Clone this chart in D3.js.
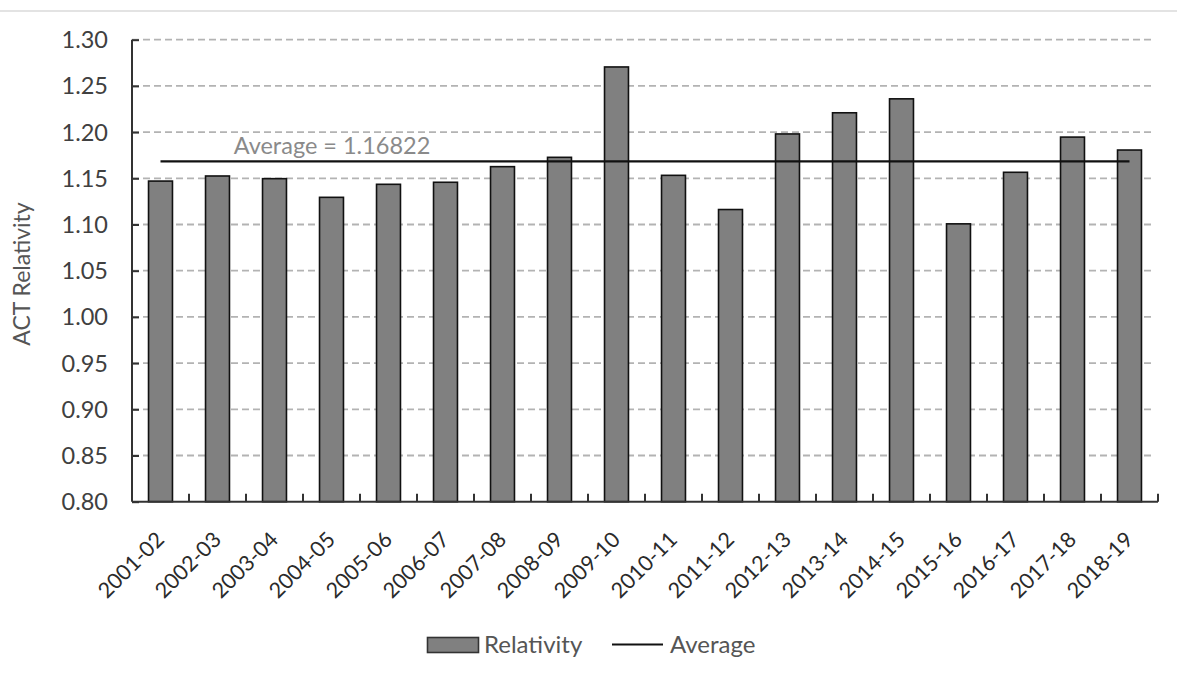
<!DOCTYPE html>
<html>
<head>
<meta charset="utf-8">
<script src="https://cdn.jsdelivr.net/npm/d3@7"></script>
<style>
  html, body { margin: 0; padding: 0; background: #fff; }
  svg { display: block; }
  text { font-family: Lato, "Open Sans", "DejaVu Sans", sans-serif; }
</style>
</head>
<body>
<svg id="chart" width="1177" height="675"></svg>
<script>
const categories = ["2001-02","2002-03","2003-04","2004-05","2005-06","2006-07","2007-08","2008-09","2009-10","2010-11","2011-12","2012-13","2013-14","2014-15","2015-16","2016-17","2017-18","2018-19"];
const relativity = [1.147,1.1525,1.1496,1.1294,1.1435,1.1457,1.1626,1.1727,1.2705,1.1532,1.1162,1.198,1.2209,1.236,1.1007,1.1565,1.1946,1.1806];
const averageValue = 1.16822;
const yTicks = [0.80,0.85,0.90,0.95,1.00,1.05,1.10,1.15,1.20,1.25,1.30];
const averageLabel = "Average = 1.16822";
const yTitle = "ACT Relativity";
const legendLabels = ["Relativity","Average"];

const svg = d3.select("#chart");
const pLeft = 132, pRight = 1158, pTop = 39.7, pBottom = 501.7;

// page separator line at top
svg.append("line").attr("x1",0).attr("x2",1177).attr("y1",11).attr("y2",11)
  .attr("stroke","#e3e3e3").attr("stroke-width",2);

const x = d3.scaleBand().domain(categories).range([pLeft,pRight]).paddingInner(0.58).paddingOuter(0.29);
const y = d3.scaleLinear().domain([0.8,1.3]).range([pBottom,pTop]);

// gridlines
svg.append("g").selectAll("line").data(yTicks.filter(d=>d>0.8)).join("line")
  .attr("x1",pLeft).attr("x2",pRight-4)
  .attr("y1",d=>y(d)).attr("y2",d=>y(d))
  .attr("stroke","#b3b3b3").attr("stroke-width",1.8).attr("stroke-dasharray","7,4");

// y axis
const yAxis = d3.axisRight(y).tickValues(yTicks).tickSize(7).tickFormat("");
const gy = svg.append("g").attr("transform",`translate(${pLeft},0)`).call(yAxis);
gy.select(".domain").attr("stroke","#333").attr("stroke-width",2).attr("d",`M0,${pTop}V${pBottom}`);
gy.selectAll(".tick line").attr("stroke","#333").attr("stroke-width",2);

svg.append("g").selectAll("text").data(yTicks).join("text")
  .attr("x",108).attr("y",d=>y(d)).attr("dy","0.36em")
  .attr("text-anchor","end").attr("font-size",23.5).attr("fill","#404040")
  .text(d=>d3.format(".2f")(d));

// bars
svg.append("g").selectAll("rect").data(categories).join("rect")
  .attr("x",d=>x(d)).attr("width",x.bandwidth())
  .attr("y",(d,i)=>y(relativity[i])).attr("height",(d,i)=>pBottom-y(relativity[i]))
  .attr("fill","#808080").attr("stroke","#111").attr("stroke-width",1.6);

// x axis
const boundaries = d3.range(categories.length+1).map(i=>pLeft + i*x.step());
svg.append("g").selectAll("line").data(boundaries.slice(1)).join("line")
  .attr("x1",d=>d).attr("x2",d=>d).attr("y1",pBottom).attr("y2",pBottom-8)
  .attr("stroke","#333").attr("stroke-width",2);
svg.append("line").attr("x1",pLeft).attr("x2",pRight).attr("y1",pBottom).attr("y2",pBottom)
  .attr("stroke","#333").attr("stroke-width",2);

svg.append("g").selectAll("text").data(categories).join("text")
  .attr("transform",d=>`translate(${x(d)+x.bandwidth()/2+5},${541}) rotate(-45)`)
  .attr("text-anchor","end").attr("font-size",21.5).attr("fill","#2a2a2a")
  .text(d=>d);

// average line
const xc = d=>x(d)+x.bandwidth()/2;
svg.append("line")
  .attr("x1",xc(categories[0])).attr("x2",xc(categories[categories.length-1]))
  .attr("y1",y(averageValue)).attr("y2",y(averageValue))
  .attr("stroke","#111").attr("stroke-width",2.2);
svg.append("text").attr("x",332).attr("y",154).attr("text-anchor","middle")
  .attr("font-size",23.5).attr("fill","#8a8a8a").text(averageLabel);

// y title
svg.append("text").attr("transform","translate(30,274) rotate(-90)")
  .attr("text-anchor","middle").attr("font-size",23).attr("fill","#555").text(yTitle);

// legend
const lg = svg.append("g");
lg.append("rect").attr("x",427.5).attr("y",637.5).attr("width",51).attr("height",15)
  .attr("fill","#808080").attr("stroke","#333").attr("stroke-width",1.6);
lg.append("text").attr("x",484).attr("y",653).attr("font-size",24).attr("fill","#555").text(legendLabels[0]);
lg.append("line").attr("x1",612).attr("x2",663).attr("y1",644.5).attr("y2",644.5)
  .attr("stroke","#111").attr("stroke-width",2);
lg.append("text").attr("x",670).attr("y",653).attr("font-size",24).attr("fill","#555").text(legendLabels[1]);
</script>
</body>
</html>
